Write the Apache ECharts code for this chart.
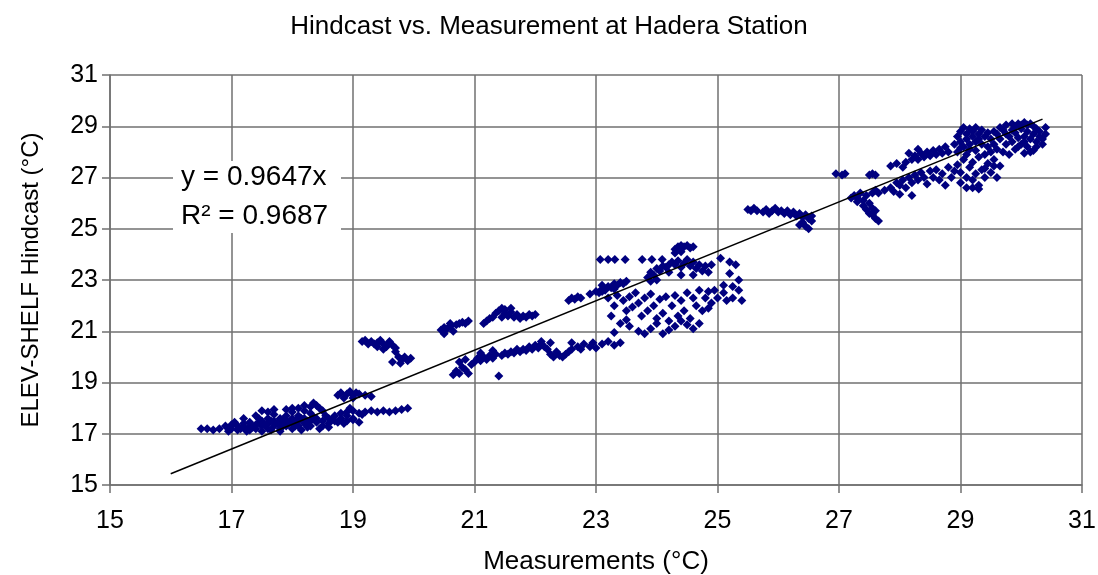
<!DOCTYPE html>
<html>
<head>
<meta charset="utf-8">
<script src="https://cdn.jsdelivr.net/npm/echarts@6/dist/echarts.min.js"></script>
<style>html,body{margin:0;padding:0;background:#fff}#c{width:1098px;height:575px}</style>
</head>
<body>
<div id="c"></div>
<script>
// ---- Data (Measurement °C, Hindcast °C) ----
var xTicks = [15, 17, 19, 21, 23, 25, 27, 29, 31];
var yTicks = [15, 17, 19, 21, 23, 25, 27, 29, 31];

var clusterA = [[16.5,17.2],[16.6,17.2],[16.7,17.15],[16.8,17.2],[16.9,17.3],[17.0,17.2],[17.0,17.35],[17.1,17.3],[17.1,17.15],[17.2,17.4],[17.2,17.25],[17.3,17.3],[17.3,17.45],[17.3,17.15],[17.4,17.35],[17.4,17.2],[17.5,17.5],[17.5,17.3],[17.5,17.1],[17.6,17.4],[17.6,17.6],[17.6,17.2],[17.7,17.3],[17.7,17.5],[17.7,17.75],[17.8,17.4],[17.8,17.6],[17.8,17.2],[17.8,17.1],[17.9,17.5],[17.9,17.3],[17.9,17.7],[18.0,17.6],[18.0,17.4],[18.0,17.2],[18.0,17.85],[18.1,17.5],[18.1,17.3],[18.1,17.7],[18.2,17.9],[18.2,17.6],[18.2,17.4],[18.3,17.5],[18.3,17.3],[18.3,17.8],[18.3,18.05],[18.4,17.6],[18.4,17.45],[18.4,18.1],[18.5,17.5],[18.5,17.3],[18.5,17.9],[18.6,17.6],[18.6,17.4],[18.7,17.5],[18.7,17.7],[18.8,17.6],[18.9,17.5],[18.9,17.7],[19.0,17.6],
  [17.2,17.6],[17.4,17.7],[17.6,17.85],[17.9,17.95],[18.0,18.0],[18.1,18.0],[18.2,18.1],[18.35,18.2],[18.45,18.0],[17.5,17.9],[17.7,17.95],[17.05,17.45],[17.25,17.1],[16.95,17.1],[18.15,17.15],[18.45,17.2],[18.6,17.25],
  [17.15,17.2],[17.35,17.25],[17.45,17.45],[17.55,17.35],[17.65,17.5],[17.75,17.4],[17.85,17.55],[17.95,17.45],[18.05,17.5],[18.15,17.6],[18.25,17.5],[18.35,17.65],[18.55,17.7],[18.65,17.55],[17.85,17.3],[18.05,17.3],[18.25,17.25],[17.65,17.15],[17.45,17.6],[18.75,17.45],
  [18.75,18.5],[18.8,18.6],[18.9,18.55],[18.95,18.65],[19.0,18.5],[19.05,18.6],[19.1,18.55],[19.2,18.5],[19.3,18.45],[18.85,18.4],[19.0,18.4],
  [18.8,17.8],[18.9,17.85],[19.0,17.9],[19.1,17.8],[19.2,17.85],[19.3,17.9],[19.4,17.85],[19.5,17.9],[19.6,17.85],[19.7,17.9],[19.8,17.95],[19.9,18.0],[19.15,17.75],[18.95,18.0],[19.0,17.55],[19.1,17.45],[18.85,17.4]];

var clusterB = [[19.15,20.6],[19.2,20.65],[19.3,20.6],[19.35,20.5],[19.4,20.55],[19.45,20.65],[19.5,20.5],[19.55,20.4],[19.6,20.55],[19.65,20.45],[19.7,20.35],[19.7,20.2],[19.75,20.0],[19.8,19.9],[19.85,20.0],[19.9,19.85],[19.95,19.95],[19.65,19.8],[19.6,20.6],[19.25,20.5],[19.4,20.4],[19.5,20.3],[19.78,19.75]];

var clusterC = [[20.45,21.05],[20.5,20.9],[20.55,21.1],[20.6,21.2],[20.65,21.0],[20.7,21.25],[20.75,21.3],[20.8,21.35],[20.85,21.3],[20.9,21.4],[20.6,21.3],[20.5,21.15]];

var clusterD = [[21.15,21.3],[21.2,21.4],[21.25,21.5],[21.3,21.55],[21.35,21.7],[21.4,21.8],[21.45,21.9],[21.5,21.85],[21.5,21.7],[21.55,21.6],[21.6,21.75],[21.65,21.55],[21.7,21.65],[21.75,21.5],[21.8,21.6],[21.85,21.55],[21.9,21.65],[21.95,21.6],[22.0,21.65],[21.6,21.9],[21.45,21.55]];

var clusterE = [[20.65,19.3],[20.7,19.45],[20.75,19.35],[20.8,19.6],[20.85,19.5],[20.9,19.35],[20.95,19.7],[20.75,19.8],[20.85,19.9],[21.0,19.8],[21.05,19.95],[21.1,19.85],[21.15,20.0],[21.2,19.9],[21.25,20.05],[21.3,19.95],[21.35,20.1],[21.4,19.25],[21.45,20.05],[21.5,20.15],[21.55,20.1],[21.6,20.2],[21.65,20.15],[21.7,20.3],[21.75,20.2],[21.8,20.3],[21.85,20.25],[21.9,20.4],[21.95,20.3],[22.0,20.45],[22.05,20.35],[22.1,20.5],[22.15,20.4],[22.2,20.3],[22.25,20.1],[22.3,20.0],[22.35,20.2],[22.4,20.05],[22.45,20.0],[22.5,20.1],[22.55,20.2],[22.6,20.3],[22.7,20.4],[22.75,20.3],[22.8,20.5],[22.9,20.4],[22.95,20.55],[23.0,20.35],[23.1,20.5],[23.2,20.6],[23.3,20.45],[23.4,20.55],[21.1,20.15],[21.3,20.25],[22.1,20.6],[22.25,20.55],[22.6,20.55]];

var clusterF = [[22.55,22.2],[22.6,22.3],[22.65,22.25],[22.7,22.35],[22.75,22.3],[22.9,22.45],[23.0,22.55],[23.05,22.5],[23.1,22.65],[23.15,22.6],[23.2,22.75],[23.25,22.7],[23.3,22.85],[23.35,22.8],[23.4,22.9],[23.45,22.85],[23.5,22.95],[23.3,22.65],[23.1,22.8]];

var clusterG = [[23.07,23.8],[23.2,23.8],[23.31,23.8],[23.48,23.8],[23.76,23.8],[23.92,23.8],[24.09,23.8],
  [24.3,24.2],[24.35,24.3],[24.4,24.35],[24.45,24.3],[24.5,24.35],[24.55,24.25],[24.6,24.3],[24.3,24.05],[24.4,24.1],
  [23.85,23.1],[23.9,23.3],[23.95,23.2],[24.0,23.45],[24.05,23.35],[24.1,23.55],[24.15,23.5],[24.2,23.6],[24.25,23.7],[24.3,23.6],[24.35,23.75],[24.4,23.5],[24.45,23.65],[24.5,23.8],[24.55,23.55],[24.6,23.7],[24.65,23.45],[24.7,23.6],[24.75,23.35],[24.8,23.55],[24.85,23.3],[24.9,23.6],[24.2,23.3],[24.4,23.2],[24.6,23.2],[24.0,23.0],[23.9,22.95],
  [25.05,23.85],[25.2,23.7],[25.3,23.6],[25.2,23.25],[25.35,23.0],[25.1,22.8],[25.25,22.75],[25.35,22.6],[25.1,22.5],[25.25,22.3],[25.4,22.2],[25.15,22.2],
  [23.1,22.55],[23.2,22.3],[23.3,22.0],[23.35,22.4],[23.45,22.2],[23.5,21.8],[23.55,22.35],[23.6,21.95],[23.65,22.5],[23.7,22.1],[23.75,21.6],[23.8,22.3],[23.85,21.8],[23.9,22.45],[23.95,22.0],[24.0,21.5],[24.05,22.25],[24.1,21.7],[24.15,22.35],[24.2,21.4],[24.25,22.0],[24.3,22.4],[24.35,21.6],[24.4,22.2],[24.45,21.8],[24.5,22.5],[24.55,21.5],[24.6,22.3],[24.65,22.0],[24.7,22.6],[24.75,21.8],[24.8,22.3],[24.85,22.55],[24.9,22.1],[23.25,21.6],[23.4,21.3],[23.55,21.2],[23.7,21.0],[23.8,20.9],[23.9,21.1],[24.0,21.3],[24.1,20.9],[24.2,21.05],[24.3,21.2],[24.4,21.4],[24.5,21.25],[24.6,21.1],[24.7,21.3],[23.3,20.95],[23.5,21.45],[24.85,21.9],[25.0,22.3],[24.95,22.6]];

var clusterH = [[25.5,25.75],[25.55,25.7],[25.6,25.8],[25.65,25.7],[25.75,25.65],[25.8,25.75],[25.85,25.6],[25.9,25.7],[25.95,25.8],[26.0,25.65],[26.05,25.7],[26.1,25.6],[26.15,25.7],[26.2,25.55],[26.25,25.65],[26.3,25.5],[26.35,25.6],[26.4,25.45],[26.45,25.55],[26.5,25.4],[26.55,25.5],[26.4,25.25],[26.45,25.1],[26.5,25.0],[26.35,25.15],[26.55,25.3]];

var clusterI = [[26.95,27.15],[27.05,27.1],[27.1,27.15],[27.5,27.1],[27.55,27.15],[27.6,27.1]];

var clusterJ = [[27.25,26.3],[27.3,26.2],[27.35,26.4],[27.4,26.1],[27.45,26.3],[27.3,26.05],[27.4,25.9],[27.5,26.0],[27.55,25.8],[27.6,25.7],[27.55,25.55],[27.6,25.4],[27.65,25.3],[27.5,25.6],[27.45,25.75],[27.55,26.4],[27.6,26.5],[27.2,26.2]];

var clusterK = [[27.65,26.4],[27.75,26.5],[27.85,26.6],[27.9,26.45],[27.95,26.8],[28.0,26.7],[28.05,26.9],[28.1,26.6],[28.15,27.0],[28.2,26.8],[28.25,27.1],[28.3,26.9],[28.35,27.2],[28.4,27.0],[28.45,26.75],[28.5,27.25],[28.55,27.0],[28.6,27.3],[28.65,26.9],[28.7,27.15],[28.75,26.7],[28.8,27.4],[28.85,27.0],[28.9,27.25],[28.0,26.35],[28.2,26.3],
  [27.85,27.45],[27.95,27.55],[28.05,27.4],[28.1,27.6],[28.2,27.7],[28.25,27.85],[28.3,27.7],[28.35,27.95],[28.4,27.8],[28.45,28.0],[28.5,27.85],[28.55,28.05],[28.6,27.9],[28.65,28.1],[28.7,27.95],[28.75,28.2],[28.8,28.0],[28.3,28.1],[28.15,27.95]];

var clusterL = [[28.9,28.3],[28.95,28.6],[29.0,28.8],[29.0,28.4],[29.05,28.95],[29.05,28.2],[29.1,28.7],[29.1,28.5],[29.15,28.9],[29.15,28.3],[29.2,28.6],[29.2,28.8],[29.25,28.4],[29.25,28.95],[29.3,28.7],[29.3,28.5],[29.35,28.85],[29.4,28.6],[28.95,28.0],[29.0,28.15],
  [28.95,27.5],[29.0,27.2],[29.0,26.8],[29.05,27.7],[29.1,27.0],[29.1,26.6],[29.15,27.4],[29.2,26.9],[29.2,27.6],[29.25,27.15],[29.3,26.7],[29.3,27.8],[29.35,27.3],[29.4,27.0],[29.45,27.55],[29.5,27.2],[29.55,27.7],[29.6,27.0],[29.65,27.45],[29.1,27.9],[29.25,28.05],[29.4,27.9],[29.5,28.0],[29.2,26.6],[29.3,26.55],
  [29.45,28.2],[29.5,28.5],[29.55,28.3],[29.6,28.7],[29.6,28.1],[29.65,28.5],[29.7,28.85],[29.7,28.0],[29.75,28.3],[29.8,28.6],[29.8,27.9],[29.85,28.4],[29.9,28.75],[29.9,28.1],[29.95,28.55],[30.0,28.3],[30.0,28.9],
  [29.75,29.05],[29.85,29.1],[29.9,29.0],[29.95,29.1],[30.0,29.05],[30.05,29.15],[30.1,29.05],[30.15,29.1],[30.2,29.0],[29.65,28.95],
  [30.05,28.6],[30.1,28.8],[30.1,28.2],[30.15,28.5],[30.2,28.7],[30.2,28.05],[30.25,28.9],[30.25,28.4],[30.3,28.6],[30.3,28.8],[30.35,28.5],[30.4,28.7],[30.4,28.95],[30.05,27.95],[30.15,28.0],
  [29.55,28.8],[29.75,28.7],[29.85,28.85],[29.95,28.2],[30.05,28.4],[30.25,28.2],[30.35,28.3],[29.35,28.3],[29.45,28.75],[29.15,28.1],[29.4,27.35],[29.55,27.45]];

// Linear trend line (y = 0.9647x) endpoints as drawn
var trendLine = [[16.0, 15.44], [30.35, 29.28]];
var trendLabel = 'y = 0.9647x';
var r2Label = 'R² = 0.9687';

var points = [].concat(clusterA, clusterB, clusterC, clusterD, clusterE, clusterF, clusterG, clusterH, clusterI, clusterJ, clusterK, clusterL);

var FONT = '"Liberation Sans", Arial, sans-serif';
var GRID = '#707070';
var chart = echarts.init(document.getElementById('c'), null, {renderer: 'canvas'});
chart.setOption({
  animation: false,
  backgroundColor: '#ffffff',
  title: {
    text: 'Hindcast vs. Measurement at Hadera Station',
    left: 'center', top: 9,
    textStyle: {fontFamily: FONT, fontSize: 26, fontWeight: 'normal', color: '#000'}
  },
  grid: {left: 110, right: 16, top: 75, bottom: 90, containLabel: false, outerBoundsMode: 'none'},
  xAxis: {
    type: 'value', min: xTicks[0], max: xTicks[xTicks.length - 1], interval: 2,
    name: 'Measurements (°C)', nameLocation: 'middle', nameGap: 64,
    nameTextStyle: {fontFamily: FONT, fontSize: 26, color: '#000'},
    axisLine: {show: true, lineStyle: {color: GRID, width: 1.5}},
    axisTick: {show: true, inside: false, length: 8, lineStyle: {color: GRID, width: 1.5}},
    axisLabel: {fontFamily: FONT, fontSize: 25, color: '#000', margin: 24},
    splitLine: {show: true, lineStyle: {color: GRID, width: 1.5}}
  },
  yAxis: {
    type: 'value', min: yTicks[0], max: yTicks[yTicks.length - 1], interval: 2,
    name: 'ELEV-SHELF Hindcast (°C)', nameLocation: 'middle', nameGap: 67,
    nameTextStyle: {fontFamily: FONT, fontSize: 24, color: '#000'},
    axisLine: {show: true, lineStyle: {color: GRID, width: 1.5}},
    axisTick: {show: true, inside: false, length: 8, lineStyle: {color: GRID, width: 1.5}},
    axisLabel: {fontFamily: FONT, fontSize: 25, color: '#000', margin: 12},
    splitLine: {show: true, lineStyle: {color: GRID, width: 1.5}}
  },
  series: [
    {
      type: 'scatter', name: 'Hindcast', data: points,
      symbol: 'diamond', symbolSize: 9,
      itemStyle: {color: '#00007f', opacity: 1},
      z: 3
    },
    {
      type: 'line', name: 'Trend', data: trendLine,
      showSymbol: false, symbol: 'none',
      lineStyle: {color: '#000', width: 1.5},
      z: 4
    }
  ],
  graphic: [
    {type: 'rect', left: 173, top: 161, shape: {width: 168, height: 72}, style: {fill: '#ffffff'}, z: 10},
    {type: 'text', left: 181, top: 163, style: {text: trendLabel, fontFamily: FONT, fontSize: 28, fill: '#000'}, z: 11},
    {type: 'text', left: 181, top: 202, style: {text: r2Label, fontFamily: FONT, fontSize: 28, fill: '#000'}, z: 11}
  ]
});
</script>
</body>
</html>
